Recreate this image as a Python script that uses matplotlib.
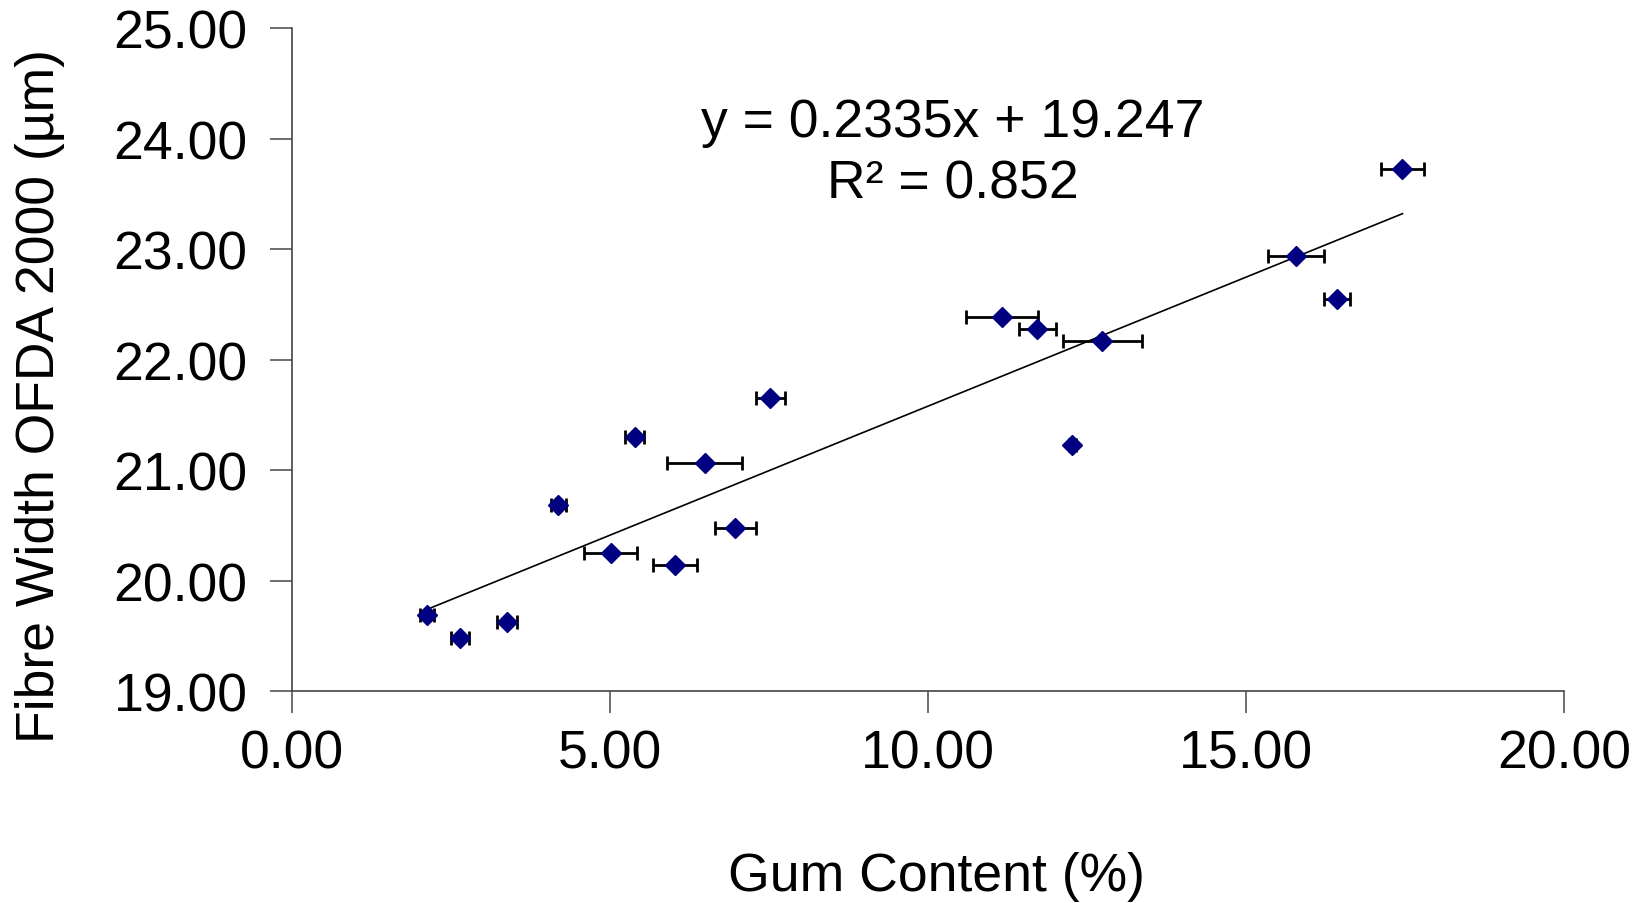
import matplotlib
matplotlib.use("Agg")
import matplotlib.pyplot as plt
import numpy as np

gum = [2.13, 2.64, 3.38, 4.19, 5.01, 5.39, 6.02, 6.49, 6.97, 7.52,
       11.16, 11.72, 12.27, 12.74, 15.79, 16.43, 17.46]
width = [19.69, 19.48, 19.63, 20.69, 20.25, 21.30, 20.14, 21.07, 20.48, 21.66,
         22.39, 22.28, 21.23, 22.17, 22.94, 22.55, 23.73]
gum_err = [0.11, 0.14, 0.15, 0.12, 0.42, 0.15, 0.34, 0.59, 0.32, 0.23,
           0.57, 0.29, 0.05, 0.62, 0.44, 0.20, 0.34]
slope, intercept = 0.2335, 19.247
xticks = [0, 5, 10, 15, 20]
yticks = [19, 20, 21, 22, 23, 24, 25]

plt.rcParams['font.family'] = ['Liberation Sans', 'DejaVu Sans']
fig = plt.figure(figsize=(16.46, 9.04), dpi=100)
ax = fig.add_axes([0.1774, 0.234, 0.7728, 0.7334])

ax.errorbar(gum, width, xerr=gum_err, fmt='none', ecolor='black',
            elinewidth=2.0, capsize=4.8, capthick=2.0, zorder=2)
ax.plot(gum, width, linestyle='none', marker='D', markersize=10.5,
        color='#000080', zorder=3)
xl = np.array([min(gum), max(gum)])
ax.plot(xl, slope * xl + intercept, color='black', linewidth=1.2, zorder=1)

ax.text(10.39, 24.15, 'y = 0.2335x + 19.247', ha='center', va='center', fontsize=38.5)
ax.text(10.39, 23.60, 'R² = 0.852', ha='center', va='center', fontsize=38.5)

ax.set_xlim(0, 20)
ax.set_ylim(19, 25)
ax.set_xticks(xticks)
ax.set_yticks(yticks)
ax.set_xticklabels([f'{v:.2f}' for v in xticks])
ax.set_yticklabels([f'{v:.2f}' for v in yticks])
ax.tick_params(axis='both', direction='out', length=16, width=1.2,
               color='#555555', labelsize=38.5)
ax.tick_params(axis='y', pad=16)
ax.tick_params(axis='x', pad=11)
for s in ['top', 'right']:
    ax.spines[s].set_visible(False)
for s in ['left', 'bottom']:
    ax.spines[s].set_color('#444444')
    ax.spines[s].set_linewidth(1.2)

ax.set_xlabel('Gum Content (%)', fontsize=38.5, va='center')
ax.set_ylabel('Fibre Width OFDA 2000 (µm)', fontsize=38.5, va='center')
ax.xaxis.set_label_coords(937 / 1646, 1 - 877 / 904,
                          transform=fig.transFigure)
ax.yaxis.set_label_coords(40 / 1646, 1 - 396 / 904,
                          transform=fig.transFigure)

fig.savefig('out.png', dpi=100)
